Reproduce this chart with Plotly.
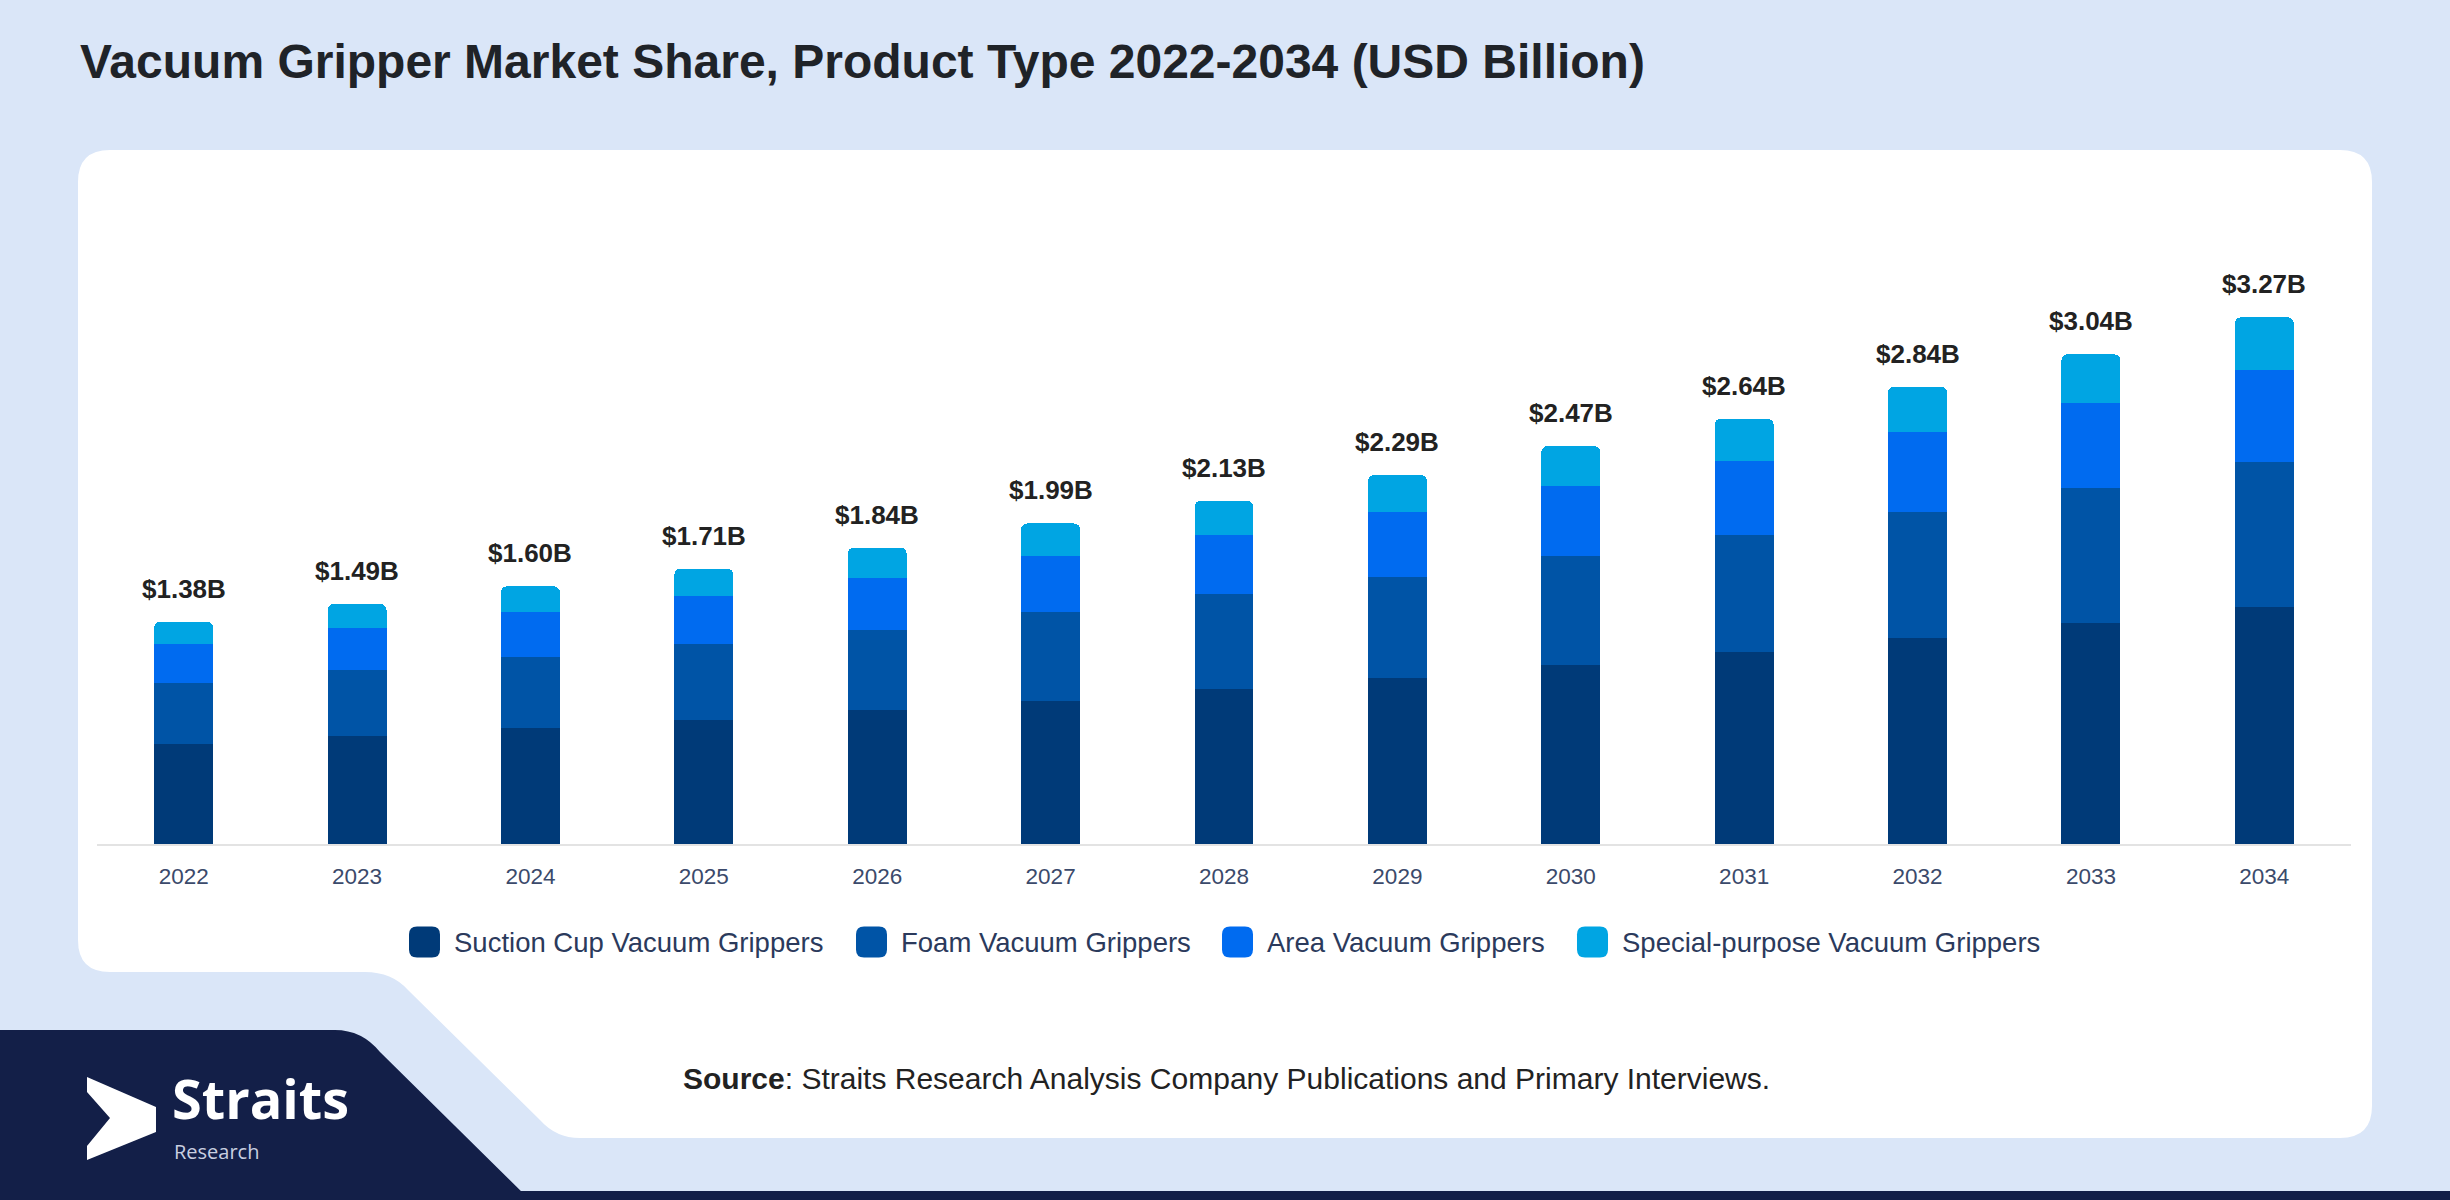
import plotly.graph_objects as go

W, H = 2450, 1200

years = ['2022', '2023', '2024', '2025', '2026', '2027', '2028',
         '2029', '2030', '2031', '2032', '2033', '2034']
suction_cup = [0.62, 0.67, 0.72, 0.77, 0.83, 0.89, 0.96, 1.03, 1.11, 1.19, 1.28, 1.37, 1.47]
foam = [0.38, 0.41, 0.44, 0.47, 0.50, 0.55, 0.59, 0.63, 0.68, 0.73, 0.78, 0.84, 0.90]
area = [0.24, 0.26, 0.28, 0.30, 0.32, 0.35, 0.37, 0.40, 0.43, 0.46, 0.50, 0.53, 0.57]
special = [0.14, 0.15, 0.16, 0.17, 0.19, 0.20, 0.21, 0.23, 0.25, 0.26, 0.28, 0.30, 0.33]
totals = [1.38, 1.49, 1.60, 1.71, 1.84, 1.99, 2.13, 2.29, 2.47, 2.64, 2.84, 3.04, 3.27]

series_names = ['Suction Cup Vacuum Grippers', 'Foam Vacuum Grippers',
                'Area Vacuum Grippers', 'Special-purpose Vacuum Grippers']
series_colors = ['#003a78', '#0054a6', '#006bf0', '#00a5e3']

BG = '#dae6f8'
NAVY = '#131f48'


def px(x):
    return x / W


def py(y):
    return 1 - y / H


def path(points):
    # points in pixel space -> svg path in paper space
    out = ''
    for cmd, *coords in points:
        out += cmd
        out += ' '.join(f'{px(coords[i]):.5f},{py(coords[i + 1]):.5f}' for i in range(0, len(coords), 2))
        out += ' '
    return out + 'Z'


fig = go.Figure()

for name, vals, color in zip(series_names, [suction_cup, foam, area, special], series_colors):
    fig.add_trace(go.Bar(
        x=years, y=vals, name=name,
        marker=dict(color=color, line=dict(width=0)),
        width=0.34,
        showlegend=False,
        hovertemplate='%{x}<br>' + name + ': $%{y:.2f}B<extra></extra>',
    ))

# total labels above each stack
for i, t in enumerate(totals):
    fig.add_annotation(
        x=i, y=t, xref='x', yref='y',
        text=f'<b>${t:.2f}B</b>', showarrow=False,
        yanchor='bottom', yshift=16,
        font=dict(family='Liberation Sans, Arial', size=26, color='#222222'),
    )

# white card + logo panel
r = 32
card = path([
    ('M', 78 + r, 150), ('L', 2372 - r, 150), ('Q', 2372, 150, 2372, 150 + r),
    ('L', 2372, 1138 - r), ('Q', 2372, 1138, 2372 - r, 1138),
    ('L', 580, 1138), ('Q', 556, 1138, 540, 1120),
    ('L', 408, 990), ('Q', 392, 972, 365, 972),
    ('L', 78 + r, 972), ('Q', 78, 972, 78, 972 - r),
    ('L', 78, 150 + r), ('Q', 78, 150, 78 + r, 150),
])
panel = path([
    ('M', 0, 1030), ('L', 335, 1030), ('Q', 362, 1030, 380, 1052),
    ('L', 530, 1200), ('L', 0, 1200),
])
arrow = path([
    ('M', 87, 1077), ('L', 156, 1107), ('L', 156, 1132), ('L', 87, 1160),
    ('L', 87, 1146), ('L', 110, 1118), ('L', 87, 1092),
])
shapes = [
    dict(type='path', path=card, xref='paper', yref='paper', fillcolor='white', line=dict(width=0), layer='below'),
    dict(type='path', path=panel, xref='paper', yref='paper', fillcolor=NAVY, line=dict(width=0), layer='below'),
    dict(type='rect', x0=0, x1=1, y0=py(1200), y1=py(1191), xref='paper', yref='paper',
         fillcolor=NAVY, line=dict(width=0), layer='below'),
    dict(type='path', path=arrow, xref='paper', yref='paper', fillcolor='white', line=dict(width=0), layer='above'),
]

# custom legend with large rounded swatches
legend_x = [409, 856, 1222, 1577]
sw, ly = 31, 942
for name, color, lx in zip(series_names, series_colors, legend_x):
    rr = 8
    x0, x1, y0, y1 = lx, lx + sw, ly - sw / 2, ly + sw / 2
    shapes.append(dict(
        type='path', xref='paper', yref='paper', fillcolor=color, line=dict(width=0),
        path=path([
            ('M', x0 + rr, y0), ('L', x1 - rr, y0), ('Q', x1, y0, x1, y0 + rr),
            ('L', x1, y1 - rr), ('Q', x1, y1, x1 - rr, y1),
            ('L', x0 + rr, y1), ('Q', x0, y1, x0, y1 - rr),
            ('L', x0, y0 + rr), ('Q', x0, y0, x0 + rr, y0),
        ]),
    ))
    fig.add_annotation(
        x=px(lx + sw + 12), y=py(ly), xref='paper', yref='paper',
        text=name, showarrow=False, xanchor='left', yanchor='middle',
        font=dict(family='Liberation Sans, Arial', size=27.5, color='#2b3a5c'),
    )

# title
fig.add_annotation(
    x=px(78), y=py(62), xref='paper', yref='paper',
    text='<b>Vacuum Gripper Market Share, Product Type 2022-2034 (USD Billion)</b>',
    showarrow=False, xanchor='left', yanchor='middle',
    font=dict(family='Liberation Sans, Arial', size=48, color='#1f2328'),
)

# source line
fig.add_annotation(
    x=px(681), y=py(1078), xref='paper', yref='paper',
    text='<b>Source</b>: Straits Research Analysis Company Publications and Primary Interviews.',
    showarrow=False, xanchor='left', yanchor='middle',
    font=dict(family='Liberation Sans, Arial', size=30, color='#222222'),
)

# logo text
fig.add_annotation(
    x=px(170), y=py(1098), xref='paper', yref='paper',
    text='<b>Straits</b>', showarrow=False, xanchor='left', yanchor='middle',
    font=dict(family='Open Sans, Noto Sans', size=54, color='white'),
)
fig.add_annotation(
    x=px(172), y=py(1151), xref='paper', yref='paper',
    text='Research', showarrow=False, xanchor='left', yanchor='middle',
    font=dict(family='Open Sans, Noto Sans', size=20, color='#c9cfe0'),
)

fig.update_layout(
    width=W, height=H,
    margin=dict(l=0, r=0, t=0, b=0),
    paper_bgcolor=BG,
    plot_bgcolor='rgba(0,0,0,0)',
    barmode='stack',
    barcornerradius=6,
    shapes=shapes,
    showlegend=False,
    xaxis=dict(
        type='category',
        domain=[px(97), px(2351)],
        range=[-0.5, 12.5],
        showline=True, linecolor='#e3e3e3', linewidth=2,
        showgrid=False, zeroline=False,
        ticks='outside', ticklen=11, tickcolor='rgba(0,0,0,0)',
        tickfont=dict(family='Liberation Sans, Arial', size=22.5, color='#3b4a6b'),
        fixedrange=True,
    ),
    yaxis=dict(
        domain=[py(844), py(248)],
        range=[0, 3.7],
        visible=False,
        fixedrange=True,
    ),
)

fig.write_html('out.html', config={'displayModeBar': False},
               post_script="document.body.style.margin='0';document.body.style.overflow='hidden';")
